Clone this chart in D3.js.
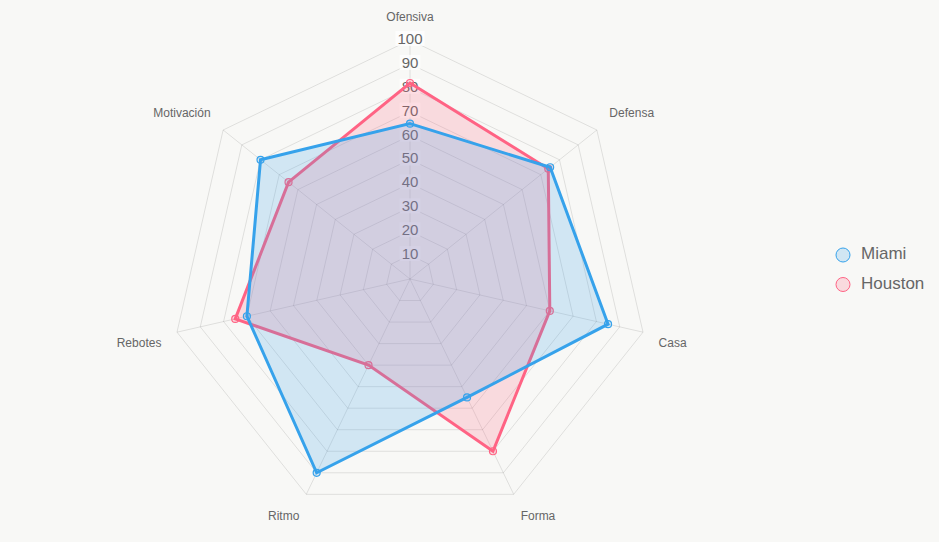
<!DOCTYPE html>
<html>
<head>
<meta charset="utf-8">
<script src="https://cdn.jsdelivr.net/npm/d3@7"></script>
<style>
  body { margin: 0; background: #f8f8f6; }
  svg { display: block; font-family: "Liberation Sans", Arial, sans-serif; }
</style>
</head>
<body>
<script>
const WIDTH = 939
const HEIGHT = 542
const CX = 410
const CY = 279
const RADIUS = 239

const CATEGORIES = ['Ofensiva', 'Defensa', 'Casa', 'Forma', 'Ritmo', 'Rebotes', 'Motivación']
const MIAMI = [65, 75, 85, 55, 90, 70, 80]
const HOUSTON = [82, 74, 60, 80, 40, 75, 65]
const TICKS = [10, 20, 30, 40, 50, 60, 70, 80, 90, 100]

const SERIES = [
    { name: 'Miami', values: MIAMI, color: 'rgb(54, 162, 235)', fill: 'rgba(54, 162, 235, 0.2)' },
    { name: 'Houston', values: HOUSTON, color: 'rgb(255, 99, 132)', fill: 'rgba(255, 99, 132, 0.2)' }
]

const svg = d3.select('body')
    .append('svg')
    .attr('width', WIDTH)
    .attr('height', HEIGHT)

const rScale = d3.scaleLinear()
    .domain([0, 100])
    .range([0, RADIUS])

const angle = i => -Math.PI / 2 + i * 2 * Math.PI / CATEGORIES.length
const point = (i, r) => [CX + Math.cos(angle(i)) * r, CY + Math.sin(angle(i)) * r]

const chart = svg.append('g')

// rings
chart.selectAll('polygon.ring')
    .data(TICKS)
    .enter()
    .append('polygon')
    .attr('class', 'ring')
    .attr('points', t => CATEGORIES.map((c, i) => point(i, rScale(t)).join(',')).join(' '))
    .attr('fill', 'none')
    .attr('stroke', 'rgba(0,0,0,0.1)')
    .attr('stroke-width', 1)

// angle lines
chart.selectAll('line.spoke')
    .data(CATEGORIES)
    .enter()
    .append('line')
    .attr('class', 'spoke')
    .attr('x1', CX)
    .attr('y1', CY)
    .attr('x2', (c, i) => point(i, rScale(100))[0])
    .attr('y2', (c, i) => point(i, rScale(100))[1])
    .attr('stroke', 'rgba(0,0,0,0.1)')
    .attr('stroke-width', 1)

// point labels
chart.selectAll('text.cat')
    .data(CATEGORIES)
    .enter()
    .append('text')
    .attr('class', 'cat')
    .text(d => d)
    .attr('x', (c, i) => point(i, rScale(100) + 16)[0])
    .attr('y', (c, i) => {
        const p = point(i, rScale(100) + 16)
        const s = Math.sin(angle(i))
        return s < -0.01 ? p[1] - 6 : p[1] + 8
    })
    .attr('dominant-baseline', 'middle')
    .attr('text-anchor', (c, i) => {
        const co = Math.cos(angle(i))
        return co > 0.01 ? 'start' : co < -0.01 ? 'end' : 'middle'
    })
    .attr('font-size', 12)
    .attr('fill', '#666')

// tick labels
const tickG = chart.selectAll('g.tick')
    .data(TICKS)
    .enter()
    .append('g')
    .attr('class', 'tick')
    .attr('transform', t => `translate(${CX}, ${CY - rScale(t)})`)

tickG.append('text')
    .text(t => t)
    .attr('text-anchor', 'middle')
    .attr('dominant-baseline', 'middle')
    .attr('font-size', 15)
    .attr('fill', '#666')

tickG.each(function () {
    const g = d3.select(this)
    const bb = g.select('text').node().getBBox()
    g.insert('rect', 'text')
        .attr('x', bb.x - 2)
        .attr('y', bb.y + 1)
        .attr('width', bb.width + 4)
        .attr('height', bb.height - 2)
        .attr('fill', 'rgba(255,255,255,0.75)')
})

// datasets, Houston first so Miami sits on top
const line = d3.line().curve(d3.curveLinearClosed)

const ds = chart.selectAll('g.series')
    .data(SERIES.slice().reverse())
    .enter()
    .append('g')
    .attr('class', 'series')

ds.append('path')
    .attr('d', s => line(s.values.map((v, i) => point(i, rScale(v)))))
    .attr('fill', s => s.fill)
    .attr('stroke', s => s.color)
    .attr('stroke-width', 3)
    .attr('stroke-linejoin', 'miter')

ds.selectAll('circle')
    .data(s => s.values.map(v => ({ v, s })))
    .enter()
    .append('circle')
    .attr('cx', (d, i) => point(i, rScale(d.v))[0])
    .attr('cy', (d, i) => point(i, rScale(d.v))[1])
    .attr('r', 3.5)
    .attr('fill', d => d.s.fill)
    .attr('stroke', d => d.s.color)
    .attr('stroke-width', 1.2)

// legend
const legend = svg.append('g')
    .attr('transform', 'translate(843, 255)')

const item = legend.selectAll('g')
    .data(SERIES)
    .enter()
    .append('g')
    .attr('transform', (d, i) => `translate(0, ${i * 29.5})`)

item.append('circle')
    .attr('r', 7)
    .attr('fill', d => d.fill)
    .attr('stroke', d => d.color)
    .attr('stroke-width', 1)

item.append('text')
    .text(d => d.name)
    .attr('x', 18)
    .attr('dominant-baseline', 'middle')
    .attr('font-size', 17)
    .attr('fill', '#666')
</script>
</body>
</html>
